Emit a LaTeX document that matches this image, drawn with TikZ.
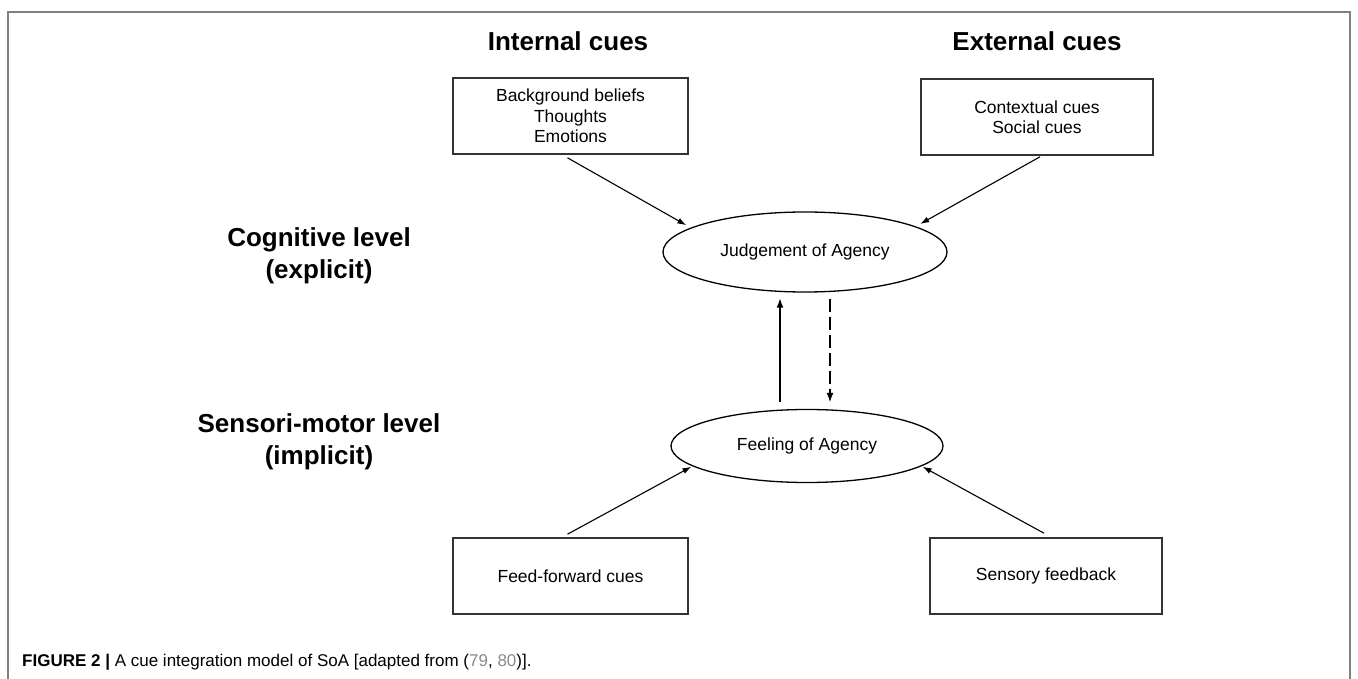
\documentclass[tikz,border=0pt]{standalone}
\usepackage{fontspec}
\setmainfont{Liberation Sans}
\usetikzlibrary{arrows.meta,shapes.geometric}
\definecolor{framegray}{HTML}{808080}
\definecolor{boxgray}{HTML}{333333}
\definecolor{linkgray}{HTML}{8A8A8A}
\begin{document}
\begin{tikzpicture}[x=1pt,y=-1pt,
  cuebox/.style={draw=boxgray,line width=1.6pt,minimum width=235pt,minimum height=76pt,inner sep=0pt,align=center,
    font=\fontsize{17.5}{20.5}\selectfont},
  agency/.style={draw=black,line width=1.3pt,ellipse,inner sep=0pt,font=\fontsize{17.5}{20.5}\selectfont},
  heading/.style={font=\fontsize{26}{32}\selectfont\bfseries,align=center},
  thinarrow/.style={line width=1.1pt,-{Latex[length=9pt,width=6pt]}},
  thickarrow/.style={line width=2.3pt,-{Latex[length=10pt,width=7pt]}},
  dasharrow/.style={line width=2.3pt,dash pattern=on 13pt off 5pt,-{Latex[length=10pt,width=7pt]}}
]
\useasboundingbox (0,0) rectangle (1358,679);
\fill[white] (0,0) rectangle (1358,679);
\draw[framegray,line width=1.5pt] (8,679) -- (8,12) -- (1350,12) -- (1350,679);

\node[heading] (ih) at (568,41) {Internal cues};
\node[heading] (eh) at (1037,41) {External cues};
\node[heading] (cog) at (319,256) {Cognitive level\\(explicit)};
\node[heading] (sen) at (319,442) {Sensori-motor level\\(implicit)};

\node[cuebox] (ib) at (570.5,116) {Background beliefs\\Thoughts\\Emotions};
\node[cuebox,minimum width=232pt] (eb) at (1037,117) {Contextual cues\\Social cues};
\node[agency,minimum width=284pt,minimum height=80pt] (jud) at (805,252) {Judgement of Agency};
\node[agency,minimum width=272pt,minimum height=73pt] (feel) at (807,446) {Feeling of Agency};
\node[cuebox] (ff) at (570.5,576) {Feed-forward cues};
\node[cuebox,minimum width=232pt] (sf) at (1046,576) {Sensory feedback};

\draw[thinarrow,shorten >=5pt] ([xshift=-3pt,yshift=-3pt]ib.south) -- (jud.168);
\draw[thinarrow,shorten >=5pt] ([xshift=3pt,yshift=-1pt]eb.south) -- (jud.13);
\draw[thinarrow,shorten >=1pt] ([xshift=-3pt,yshift=3pt]ff.north) -- (feel.190);
\draw[thinarrow,shorten >=1pt] ([xshift=-2pt,yshift=4pt]sf.north) -- (feel.350);

\draw[thickarrow,shorten >=5pt] ([xshift=-27pt,yshift=7pt]feel.north) -- ([xshift=-27pt]feel.north |- jud.south);
\draw[dasharrow,shorten >=6pt] ([xshift=25pt,yshift=-6pt]jud.south) -- ([xshift=25pt]jud.south |- feel.north);

\node[anchor=west,inner sep=0pt,font=\fontsize{17}{19}\selectfont] (cap) at (22,662)
  {\textbf{FIGURE 2 |} A cue integration model of SoA [adapted from (\textcolor{linkgray}{79}, \textcolor{linkgray}{80})].};
\end{tikzpicture}
\end{document}
